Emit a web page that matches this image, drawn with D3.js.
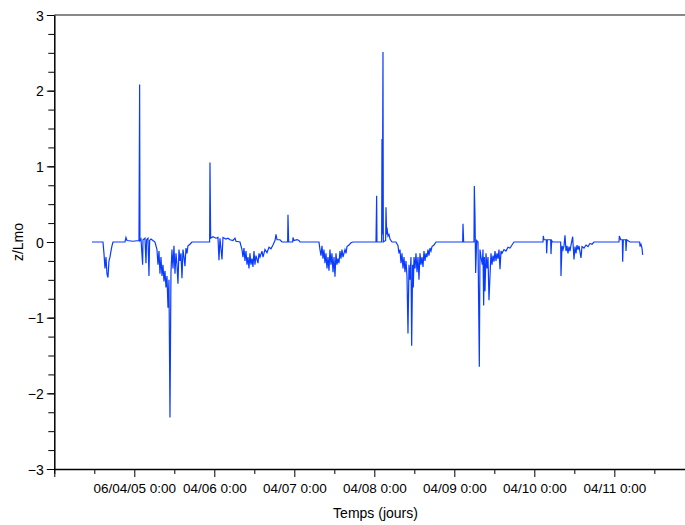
<!DOCTYPE html>
<html>
<head>
<meta charset="utf-8">
<script src="https://cdn.jsdelivr.net/npm/d3@7"></script>
<style>
  body { margin: 0; background: #fff; }
  svg { display: block; font-family: "Liberation Sans", Arial, Helvetica, sans-serif; }
</style>
</head>
<body>
<div id="chart"></div>
<script>
// Série z/Lmo : heures depuis le 04/04/2006 0:00 et valeurs
const hours = [
  11.3, 14.6, 14.9, 15.2, 15.5, 15.8, 16.1, 16.4, 16.7, 17.0, 17.3, 17.6,
  21.2, 21.5, 21.8, 23.6, 25.4, 25.6, 25.7, 26.0, 26.5, 26.6, 27.2, 27.5, 27.7,
  28.1, 28.4, 28.6, 29.0, 29.6, 30.2, 30.8, 31.1, 31.4, 31.7, 32.0, 32.3, 32.6,
  32.9, 33.2, 33.5, 33.8, 34.1, 34.4, 34.7, 35.0, 35.3, 35.6, 35.9, 36.2, 36.5,
  36.8, 37.1, 37.4, 37.7, 38.0, 38.3, 38.6, 38.9, 39.2, 39.5, 39.8, 40.1, 40.7,
  41.3, 46.6, 46.7, 46.9, 47.6, 48.5, 49.1, 49.4, 49.7, 50.3, 50.6, 51.5, 52.1,
  52.7, 53.6, 54.2, 54.5, 55.7, 56.3, 56.6, 56.9, 57.2, 57.5, 57.8, 58.1, 58.4,
  58.7, 59.0, 59.3, 59.6, 59.9, 60.2, 60.5, 61.1, 61.4, 61.7, 62.3, 62.6, 63.2,
  63.8, 64.4, 65.0, 65.6, 66.2, 66.5, 66.8, 67.7, 68.3, 70.0, 70.1, 70.3, 71.5,
  71.6, 71.9, 72.8, 73.4, 73.7, 79.4, 79.7, 80.0, 80.3, 80.6, 80.9, 81.2, 81.5,
  81.8, 82.1, 82.4, 82.7, 83.0, 83.3, 83.6, 83.9, 84.2, 84.5, 84.8, 85.1, 85.4,
  85.7, 86.0, 86.3, 86.6, 87.2, 87.5, 87.8, 88.4, 89.0, 89.6, 96.5, 96.7, 96.8,
  98.2, 98.3, 98.4, 98.6, 98.7, 99.4, 99.5, 99.7, 99.8, 100.1, 100.4, 100.7,
  101.3, 102.5, 103.1, 103.4, 103.7, 104.0, 104.3, 104.6, 104.9, 105.2, 105.5,
  105.8, 106.1, 106.4, 106.7, 107.0, 107.2, 107.5, 107.7, 107.9, 108.2, 108.5,
  108.8, 109.1, 109.4, 109.7, 110.0, 110.3, 110.6, 110.9, 111.2, 111.5, 111.8,
  112.1, 112.4, 112.7, 113.0, 113.3, 113.9, 114.5, 122.5, 122.6, 122.8, 125.9,
  126.0, 126.2, 126.4, 126.7, 127.1, 127.5, 127.7, 128.0, 128.4, 128.6, 128.8,
  129.0, 129.2, 129.5, 129.8, 130.1, 130.4, 130.7, 131.0, 131.3, 131.6, 131.9,
  132.2, 132.5, 132.8, 133.1, 133.4, 133.7, 134.0, 134.3, 134.9, 135.5, 136.1,
  136.7, 137.3, 137.9, 146.6, 146.7, 146.9, 147.6, 147.7, 147.9, 148.9, 149.0,
  149.2, 149.5, 151.9, 152.0, 152.3, 152.6, 152.9, 153.2, 153.5, 153.8, 154.1,
  154.4, 154.7, 155.0, 155.5, 155.9, 156.2, 156.5, 156.8, 157.1, 157.4, 158.0,
  158.3, 158.9, 159.5, 160.1, 160.7, 161.3, 161.9, 169.4, 169.5, 169.9, 170.4,
  170.5, 170.7, 171.4, 171.5, 171.7, 172.7, 175.6, 175.7, 176.0, 176.3, 176.5
];
const zValues = [
  0, 0, -0.15, -0.35, -0.2, -0.42, -0.47, -0.25, -0.2, -0.12, -0.05, 0,
  0, 0.06, 0.02, 0.01, 0.02, 2.08, 0.02, 0.04, -0.3, 0.03, 0.05, -0.28, 0.03,
  0.05, -0.45, 0.02, 0.04, 0.02, 0, -0.1, -0.3, -0.12, -0.42, -0.2, -0.45, -0.3,
  -0.52, -0.38, -0.6, -0.45, -0.87, -0.5, -2.32, -0.4, -0.1, -0.35, -0.05, -0.42, -0.15,
  -0.3, -0.55, -0.1, -0.25, -0.15, -0.48, -0.1, -0.2, -0.32, -0.08, -0.15, -0.05, -0.03,
  0, 0, 1.05, 0.05, 0.07, 0.05, 0.06, -0.24, 0.05, -0.23, 0.06, 0.04, 0.05,
  0.03, 0.02, 0.05, 0.01, 0, -0.1, -0.2, -0.08, -0.25, -0.12, -0.3, -0.2, -0.35,
  -0.15, -0.3, -0.22, -0.33, -0.12, -0.3, -0.18, -0.28, -0.15, -0.2, -0.12, -0.2, -0.1,
  -0.14, -0.07, -0.09, -0.04, 0.02, 0.1, 0.03, 0.03, 0, 0, 0.36, 0, 0,
  0.06, 0.02, 0.03, 0.02, 0, 0, -0.1, -0.18, -0.05, -0.22, -0.1, -0.28, -0.15,
  -0.35, -0.2, -0.38, -0.1, -0.3, -0.15, -0.4, -0.2, -0.46, -0.15, -0.3, -0.22, -0.28,
  -0.12, -0.22, -0.1, -0.2, -0.1, -0.15, -0.06, -0.04, -0.01, 0, 0, 0.61, 0,
  0, 1.36, 0.1, 2.51, 0, 0.02, 0.46, 0.1, 0.19, 0.08, 0.1, 0.04,
  0, 0, -0.05, -0.15, -0.1, -0.28, -0.15, -0.35, -0.2, -0.4, -0.25,
  -0.45, -1.21, -0.3, -0.5, -0.2, -1.37, -0.3, -0.6, -0.2, -0.35, -0.15,
  -0.4, -0.2, -0.5, -0.15, -0.3, -0.2, -0.33, -0.12, -0.25, -0.15, -0.2,
  -0.1, -0.18, -0.08, -0.12, -0.06, -0.04, 0, 0, 0.24, 0, 0,
  0.74, 0.35, -0.41, 0.02, 0, -1.65, -0.1, -0.2, -0.3, -0.1, -0.84,
  -0.2, -0.65, -0.15, -0.35, -0.2, -0.77, -0.45, -0.15, -0.3, -0.18, -0.26,
  -0.12, -0.25, -0.15, -0.22, -0.1, -0.36, -0.12, -0.15, -0.1, -0.12, -0.07,
  -0.08, -0.04, 0, 0, 0.08, 0.03, 0.03, -0.15, 0.03, 0.03, -0.16,
  0.02, 0, 0, -0.45, -0.05, -0.1, -0.05, 0.09, -0.12, -0.05, -0.15,
  -0.06, -0.12, -0.04, 0.07, -0.23, -0.06, -0.15, -0.04, -0.1, -0.05, -0.21,
  -0.06, -0.08, -0.04, -0.06, -0.02, -0.03, 0, 0, 0.08, 0.03, 0.03,
  -0.26, 0.03, 0.03, -0.12, 0.03, 0, 0, -0.06, -0.03, -0.08, -0.17
];

// Graduations
const xLabelHours = [24, 48, 72, 96, 120, 144, 168];
const xTickLabels = ["06/04/05 0:00", "04/06 0:00", "04/07 0:00", "04/08 0:00", "04/09 0:00", "04/10 0:00", "04/11 0:00"];
const xMinorHours = [0, 12, 36, 60, 84, 108, 132, 156, 180];
const yMajorTicks = [-3, -2, -1, 0, 1, 2, 3];
const yMinorStep = 0.25;

const width = 685, height = 525;
const baseDate = new Date(2006, 3, 4, 0, 0);
const toDate = h => new Date(baseDate.getTime() + h * 3600 * 1000);

const svg = d3.select("#chart").append("svg")
    .attr("width", width)
    .attr("height", height);

// Échelles : la boîte déborde à droite de la fenêtre
const x = d3.scaleTime()
    .domain([toDate(0), toDate(189.2)])
    .range([54.3, 685]);
const y = d3.scaleLinear()
    .domain([-3, 3])
    .range([469, 15]);

// Ligne du haut (grise)
svg.append("line")
    .attr("x1", x.range()[0]).attr("x2", width)
    .attr("y1", y(3)).attr("y2", y(3))
    .attr("stroke", "#888").attr("stroke-width", 2);

// Axe Y : graduations mineures puis majeures
const yMinor = d3.range(-3, 3 + 1e-9, yMinorStep);
svg.append("g")
    .attr("transform", `translate(${x.range()[0]},0)`)
    .call(d3.axisLeft(y).tickValues(yMinor).tickSize(6).tickFormat("").tickSizeOuter(0))
    .call(g => g.select(".domain").remove());
const yAxis = svg.append("g")
    .attr("transform", `translate(${x.range()[0]},0)`)
    .call(d3.axisLeft(y).tickValues(yMajorTicks).tickSize(7.5).tickPadding(3)
        .tickFormat(d3.format("d")).tickSizeOuter(0));
yAxis.select(".domain").attr("stroke-width", 1.5);
yAxis.selectAll("text").style("font-size", "14px").attr("dy", "0.36em").attr("fill", "#000");

// Axe X : graduations mineures (12 h) puis majeures (jours)
const xBase = y(-3);
svg.append("g")
    .attr("transform", `translate(0,${xBase})`)
    .call(d3.axisBottom(x).tickValues(xMinorHours.map(toDate)).tickSize(5).tickFormat("").tickSizeOuter(0))
    .call(g => g.select(".domain").remove());
const xAxis = svg.append("g")
    .attr("transform", `translate(0,${xBase})`)
    .call(d3.axisBottom(x).tickValues([0].concat(xLabelHours).map(toDate)).tickSize(8).tickPadding(6)
        .tickFormat((d, i) => i === 0 ? "" : xTickLabels[i - 1]).tickSizeOuter(0));
xAxis.select(".domain").attr("stroke-width", 1.5).attr("d", `M${x.range()[0]},0.5H${width}`);
xAxis.selectAll("text").style("font-size", "13.5px").attr("fill", "#000");

// Courbe z/Lmo
const line = d3.line()
    .x((d, i) => x(toDate(hours[i])))
    .y(d => y(d));

svg.append("path")
    .datum(zValues)
    .attr("fill", "none")
    .attr("stroke", "#0a3cff")
    .attr("stroke-width", 1.2)
    .attr("d", line);

// Titres des axes
svg.append("text")
    .attr("x", 375.5).attr("y", 517.5)
    .attr("text-anchor", "middle")
    .style("font-size", "14px")
    .text("Temps (jours)");
svg.append("text")
    .attr("transform", `translate(23,${y(0)}) rotate(-90)`)
    .attr("text-anchor", "middle")
    .style("font-size", "14px")
    .text("z/Lmo");
</script>
</body>
</html>
